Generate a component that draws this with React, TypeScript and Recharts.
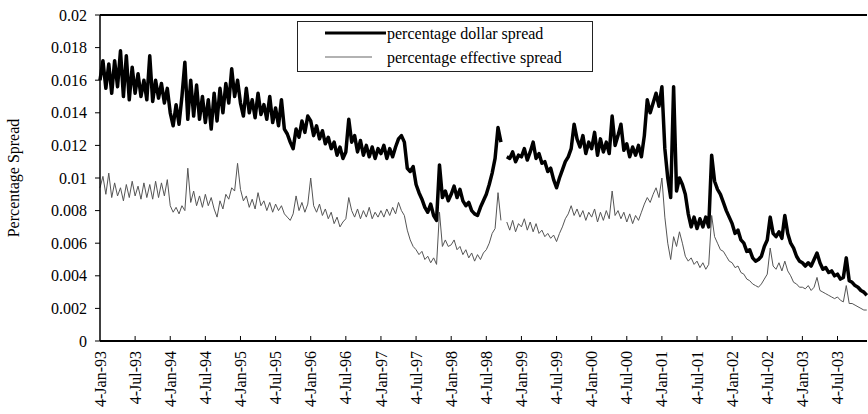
import { LineChart, Line, XAxis, YAxis, Legend, ReferenceLine } from 'recharts';

const FONT = "'Liberation Serif', 'Times New Roman', Times, serif";

// one row per calendar year, two readings per month
const years = [1993, 1994, 1995, 1996, 1997, 1998, 1999, 2000, 2001, 2002, 2003];

const dollarSpread: (number | null)[][] = [
    [0.0160, 0.0172, 0.0155, 0.0170, 0.0152, 0.0172, 0.0156, 0.0178, 0.0150, 0.0175, 0.0148, 0.0168, 0.0152, 0.0164, 0.0150, 0.0160, 0.0148, 0.0175, 0.0147, 0.0160, 0.0149, 0.0158, 0.0146, 0.0155],
    [0.0140, 0.0132, 0.0145, 0.0133, 0.0150, 0.0171, 0.0136, 0.0160, 0.0138, 0.0157, 0.0136, 0.0150, 0.0134, 0.0148, 0.0130, 0.0152, 0.0135, 0.0155, 0.0140, 0.0158, 0.0146, 0.0167, 0.0150, 0.0160],
    [0.0146, 0.0138, 0.0155, 0.0140, 0.0148, 0.0137, 0.0152, 0.0139, 0.0145, 0.0136, 0.0150, 0.0134, 0.0143, 0.0132, 0.0148, 0.0130, 0.0127, 0.0122, 0.0118, 0.0130, 0.0125, 0.0135, 0.0128, 0.0138],
    [0.0135, 0.0126, 0.0132, 0.0124, 0.0129, 0.0121, 0.0125, 0.0118, 0.0122, 0.0114, 0.0119, 0.0112, 0.0116, 0.0136, 0.0122, 0.0126, 0.0116, 0.0123, 0.0114, 0.0120, 0.0113, 0.0119, 0.0112, 0.0118],
    [0.0115, 0.0120, 0.0112, 0.0118, 0.0113, 0.0119, 0.0124, 0.0126, 0.0122, 0.0106, 0.0104, 0.0107, 0.0096, 0.0091, 0.0087, 0.0082, 0.0079, 0.0084, 0.0077, 0.0074, 0.0108, 0.0088, 0.0092, 0.0086],
    [0.0090, 0.0095, 0.0088, 0.0093, 0.0086, 0.0083, 0.0085, 0.0080, 0.0078, 0.0077, 0.0082, 0.0086, 0.0090, 0.0096, 0.0103, 0.0112, 0.0131, 0.0122, null, 0.0113, 0.0112, 0.0116, 0.0110, 0.0114],
    [0.0113, 0.0118, 0.0111, 0.0116, 0.0122, 0.0112, 0.0115, 0.0109, 0.0110, 0.0104, 0.0106, 0.0099, 0.0094, 0.0100, 0.0105, 0.0110, 0.0113, 0.0118, 0.0133, 0.0124, 0.0119, 0.0126, 0.0115, 0.0122],
    [0.0118, 0.0128, 0.0114, 0.0124, 0.0116, 0.0122, 0.0115, 0.0138, 0.0120, 0.0126, 0.0133, 0.0117, 0.0121, 0.0113, 0.0119, 0.0114, 0.0120, 0.0113, 0.0126, 0.0148, 0.0140, 0.0146, 0.0152, 0.0144],
    [0.0156, 0.0118, 0.0100, 0.0088, 0.0156, 0.0092, 0.0100, 0.0096, 0.0090, 0.0078, 0.0070, 0.0076, 0.0069, 0.0075, 0.0070, 0.0076, 0.0070, 0.0114, 0.0098, 0.0093, 0.0090, 0.0085, 0.0080, 0.0076],
    [0.0072, 0.0066, 0.0068, 0.0062, 0.0060, 0.0055, 0.0056, 0.0051, 0.0049, 0.0050, 0.0052, 0.0058, 0.0062, 0.0076, 0.0066, 0.0064, 0.0067, 0.0063, 0.0077, 0.0066, 0.0060, 0.0057, 0.0052, 0.0049],
    [0.0048, 0.0046, 0.0048, 0.0046, 0.0050, 0.0054, 0.0048, 0.0044, 0.0045, 0.0042, 0.0043, 0.0040, 0.0041, 0.0038, 0.0039, 0.0051, 0.0037, 0.0036, 0.0034, 0.0033, 0.0031, 0.0030, 0.0028],
];

const effectiveSpread: (number | null)[][] = [
    [0.0094, 0.0101, 0.0090, 0.0103, 0.0088, 0.0097, 0.0089, 0.0094, 0.0086, 0.0096, 0.0088, 0.0098, 0.0089, 0.0095, 0.0087, 0.0097, 0.0088, 0.0096, 0.0087, 0.0098, 0.0088, 0.0097, 0.0089, 0.0099],
    [0.0083, 0.0079, 0.0082, 0.0078, 0.0083, 0.0080, 0.0106, 0.0085, 0.0092, 0.0083, 0.0089, 0.0082, 0.0090, 0.0083, 0.0088, 0.0081, 0.0076, 0.0086, 0.0081, 0.0090, 0.0087, 0.0094, 0.0092, 0.0109],
    [0.0093, 0.0086, 0.0089, 0.0082, 0.0087, 0.0081, 0.0091, 0.0083, 0.0086, 0.0080, 0.0085, 0.0079, 0.0084, 0.0080, 0.0083, 0.0078, 0.0076, 0.0074, 0.0078, 0.0089, 0.0080, 0.0085, 0.0079, 0.0084],
    [0.0100, 0.0083, 0.0079, 0.0084, 0.0077, 0.0081, 0.0075, 0.0079, 0.0072, 0.0076, 0.0070, 0.0073, 0.0075, 0.0088, 0.0080, 0.0076, 0.0081, 0.0075, 0.0080, 0.0076, 0.0082, 0.0075, 0.0079, 0.0076],
    [0.0080, 0.0076, 0.0081, 0.0077, 0.0082, 0.0078, 0.0085, 0.0080, 0.0077, 0.0068, 0.0062, 0.0058, 0.0056, 0.0053, 0.0055, 0.0050, 0.0052, 0.0048, 0.0051, 0.0047, 0.0079, 0.0058, 0.0062, 0.0058],
    [0.0059, 0.0062, 0.0056, 0.0058, 0.0053, 0.0056, 0.0051, 0.0054, 0.0049, 0.0053, 0.0050, 0.0054, 0.0056, 0.0060, 0.0066, 0.0069, 0.0091, 0.0074, null, 0.0073, 0.0068, 0.0074, 0.0067, 0.0072],
    [0.0070, 0.0075, 0.0068, 0.0073, 0.0067, 0.0072, 0.0066, 0.0068, 0.0064, 0.0066, 0.0063, 0.0065, 0.0061, 0.0066, 0.0070, 0.0075, 0.0078, 0.0083, 0.0077, 0.0081, 0.0076, 0.0080, 0.0074, 0.0079],
    [0.0076, 0.0081, 0.0073, 0.0079, 0.0074, 0.0080, 0.0075, 0.0092, 0.0077, 0.0080, 0.0075, 0.0079, 0.0073, 0.0078, 0.0072, 0.0077, 0.0074, 0.0079, 0.0084, 0.0088, 0.0085, 0.0090, 0.0094, 0.0088],
    [0.0100, 0.0076, 0.0060, 0.0050, 0.0064, 0.0058, 0.0067, 0.0060, 0.0052, 0.0049, 0.0051, 0.0047, 0.0049, 0.0045, 0.0048, 0.0044, 0.0047, 0.0077, 0.0064, 0.0060, 0.0056, 0.0055, 0.0052, 0.0049],
    [0.0048, 0.0045, 0.0046, 0.0042, 0.0041, 0.0038, 0.0037, 0.0035, 0.0034, 0.0033, 0.0035, 0.0038, 0.0041, 0.0057, 0.0046, 0.0044, 0.0048, 0.0043, 0.0049, 0.0043, 0.0040, 0.0036, 0.0035, 0.0033],
    [0.0033, 0.0032, 0.0034, 0.0031, 0.0033, 0.0039, 0.0031, 0.0030, 0.0029, 0.0028, 0.0027, 0.0026, 0.0027, 0.0025, 0.0024, 0.0034, 0.0023, 0.0023, 0.0022, 0.0021, 0.0020, 0.0019, 0.0019],
];

const tickLabels = [
    '4-Jan-93', '4-Jul-93', '4-Jan-94', '4-Jul-94', '4-Jan-95', '4-Jul-95',
    '4-Jan-96', '4-Jul-96', '4-Jan-97', '4-Jul-97', '4-Jan-98', '4-Jul-98',
    '4-Jan-99', '4-Jul-99', '4-Jan-00', '4-Jul-00', '4-Jan-01', '4-Jul-01',
    '4-Jan-02', '4-Jul-02', '4-Jan-03', '4-Jul-03',
];

const yTicks = [0, 0.002, 0.004, 0.006, 0.008, 0.01, 0.012, 0.014, 0.016, 0.018, 0.02];

const DOLLAR = 'percentage dollar spread';
const EFFECTIVE = 'percentage effective spread';

type Row = { t: number; dollar: number | null; effective: number | null };

const data: Row[] = years.flatMap((year, yi) =>
    dollarSpread[yi].map((d, k) => ({
        t: year + k / 24,
        dollar: d,
        effective: effectiveSpread[yi][k] ?? null,
    }))
);

// half-year ticks, starting at the first trading day of 1993
const xTicks = tickLabels.map((_, i) => 1993 + i / 2);

const DateTick = ({ x, y, payload }: { x: number; y: number; payload: { value: number } }) => {
    const label = tickLabels[Math.round((payload.value - 1993) * 2)];
    const ty = y + 10;
    return (
        <g>
            {payload.value > 1993 && <line x1={x} y1={y} x2={x} y2={y - 5} stroke="#000" strokeWidth={1} />}
            <text
                x={x}
                y={ty}
                transform={`rotate(-90 ${x} ${ty})`}
                textAnchor="end"
                dy="0.35em"
                fontSize={16}
                style={{ fontFamily: FONT }}
                fill="#000"
            >
                {label}
            </text>
        </g>
    );
};

const AxisTitle = ({ viewBox }: { viewBox?: { x: number; y: number; width: number; height: number } }) => {
    if (!viewBox) return null;
    const cx = 13;
    const cy = viewBox.y + viewBox.height / 2;
    return (
        <text
            x={cx}
            y={cy}
            transform={`rotate(-90 ${cx} ${cy})`}
            textAnchor="middle"
            dy="0.35em"
            fontSize={16}
            style={{ fontFamily: FONT }}
            fill="#000"
        >
            Percentage Spread
        </text>
    );
};

const SpreadLegend = () => (
    <div
        style={{
            width: 296,
            height: 51,
            boxSizing: 'border-box',
            border: '1px solid #222',
            background: '#fff',
            position: 'relative',
        }}
    >
        <svg width={296} height={51} style={{ position: 'absolute', left: -1, top: -1 }}>
            <line x1={28} y1={12} x2={89} y2={12} stroke="#000" strokeWidth={3} />
            <line x1={28} y1={36} x2={75} y2={36} stroke="#666" strokeWidth={1.2} />
            <text x={90} y={12} dy="0.35em" fontSize={16} style={{ fontFamily: FONT }}>{DOLLAR}</text>
            <text x={90} y={36} dy="0.35em" fontSize={16} style={{ fontFamily: FONT }}>{EFFECTIVE}</text>
        </svg>
    </div>
);

export default function App() {
    return (
        <div style={{ position: 'absolute', left: 0, top: 0, background: '#fff', fontFamily: FONT }}>
            <LineChart
                width={868}
                height={414}
                data={data}
                margin={{ top: 15, right: 1, bottom: 0, left: 0 }}
                style={{ fontFamily: FONT }}
            >
                <XAxis
                    dataKey="t"
                    type="number"
                    domain={[1993, 2003.92]}
                    ticks={xTicks}
                    interval={0}
                    height={73}
                    tickSize={0}
                    tickMargin={0}
                    tickLine={false}
                    axisLine={{ stroke: '#000', strokeWidth: 2 }}
                    tick={(props: any) => <DateTick {...props} />}
                />
                <YAxis
                    type="number"
                    domain={[0, 0.02]}
                    ticks={yTicks}
                    interval={0}
                    width={100}
                    tickSize={5}
                    tickMargin={8}
                    tickFormatter={(v: number) => String(v)}
                    tick={{ fill: '#000', fontSize: 16, style: { fontFamily: FONT } }}
                    tickLine={{ stroke: '#000' }}
                    axisLine={{ stroke: '#000', strokeWidth: 1.5 }}
                    label={<AxisTitle />}
                />
                <ReferenceLine y={0.02} stroke="#000" strokeWidth={2} />
                <Legend
                    layout="vertical"
                    align="center"
                    verticalAlign="middle"
                    wrapperStyle={{ left: 297, top: 21, width: 296, height: 51 }}
                    content={() => <SpreadLegend />}
                />
                <Line
                    type="linear"
                    dataKey="effective"
                    name={EFFECTIVE}
                    stroke="#555"
                    strokeWidth={1}
                    dot={false}
                    isAnimationActive={false}
                />
                <Line
                    type="linear"
                    dataKey="dollar"
                    name={DOLLAR}
                    stroke="#000"
                    strokeWidth={3.5}
                    strokeLinejoin="round"
                    dot={false}
                    isAnimationActive={false}
                />
            </LineChart>
        </div>
    );
}
